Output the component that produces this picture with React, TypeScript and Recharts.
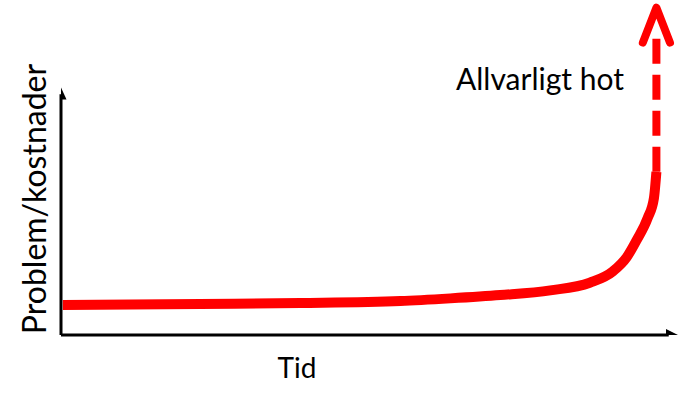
import React from "react";
import { ComposedChart, Line, Scatter, XAxis, YAxis, ReferenceLine } from "recharts";

// curve of problems/costs over time (x: 0-100, y: 0-100)
const curve = [
  { x: 0.3, y: 9.0 },
  { x: 22.5, y: 9.3 },
  { x: 38.8, y: 9.6 },
  { x: 55.0, y: 10.2 },
  { x: 63.1, y: 11.0 },
  { x: 71.2, y: 12.0 },
  { x: 79.3, y: 13.4 },
  { x: 85.7, y: 15.7 },
  { x: 89.5, y: 19.2 },
  { x: 91.7, y: 23.4 },
  { x: 93.3, y: 28.5 },
  { x: 95.1, y: 35.2 },
  { x: 96.1, y: 41.1 },
  { x: 96.5, y: 49.0 },
];
const dashed = [
  { x: 96.5, y: 49.0 },
  { x: 96.5, y: 90.0 },
];
const arrowHead = [
  { x: 94.3, y: 87.8 },
  { x: 96.5, y: 98.3 },
  { x: 98.7, y: 87.8 },
];
const xArrow = [{ x: 100, y: 0 }];
const yArrow = [{ x: 0, y: 74.3 }];

const font = "Lato, 'Open Sans', sans-serif";

const RightTri = (p: any) => (
  <path d={`M${p.cx},${p.cy} l-12,-6 v12 z`} fill="#000" />
);
const UpTri = (p: any) => (
  <path d={`M${p.cx},${p.cy} l-5.5,12 h11 z`} fill="#000" />
);

export default function App() {
  return (
    <div style={{ position: "absolute", left: 0, top: 0, width: 690, height: 400, background: "#fff" }}>
      <ComposedChart width={690} height={400} margin={{ top: 2, right: 12, bottom: 65, left: 61 }}>
        <XAxis dataKey="x" type="number" domain={[0, 100]} allowDataOverflow hide />
        <YAxis dataKey="y" type="number" domain={[0, 100]} allowDataOverflow hide />
        <ReferenceLine segment={[{ x: 0, y: 0 }, { x: 98.5, y: 0 }]} stroke="#000" strokeWidth={3} ifOverflow="visible" />
        <ReferenceLine segment={[{ x: 0, y: 0 }, { x: 0, y: 72.3 }]} stroke="#000" strokeWidth={3} ifOverflow="visible" />
        <Scatter data={xArrow} shape={RightTri} isAnimationActive={false} />
        <Scatter data={yArrow} shape={UpTri} isAnimationActive={false} />
        <Line data={curve} dataKey="y" type="monotone" stroke="#ff0000" strokeWidth={10} dot={false} isAnimationActive={false} />
        <Line data={dashed} dataKey="y" type="linear" stroke="#ff0000" strokeWidth={8} strokeDasharray="25 11" dot={false} isAnimationActive={false} />
        <Line data={arrowHead} dataKey="y" type="linear" stroke="#ff0000" strokeWidth={8} strokeLinecap="round" strokeLinejoin="round" dot={false} isAnimationActive={false} />
      </ComposedChart>
      <div style={{ position: "absolute", left: 540, top: 78, transform: "translate(-50%, -50%)", fontFamily: font, fontSize: 30, color: "#000", whiteSpace: "nowrap" }}>
        Allvarligt hot
      </div>
      <div style={{ position: "absolute", left: 297, top: 367, transform: "translate(-50%, -50%)", fontFamily: font, fontSize: 28, color: "#000", whiteSpace: "nowrap" }}>
        Tid
      </div>
      <div style={{ position: "absolute", left: 33, top: 199, transform: "translate(-50%, -50%) rotate(-90deg)", fontFamily: font, fontSize: 32, color: "#000", whiteSpace: "nowrap" }}>
        Problem/kostnader
      </div>
    </div>
  );
}
